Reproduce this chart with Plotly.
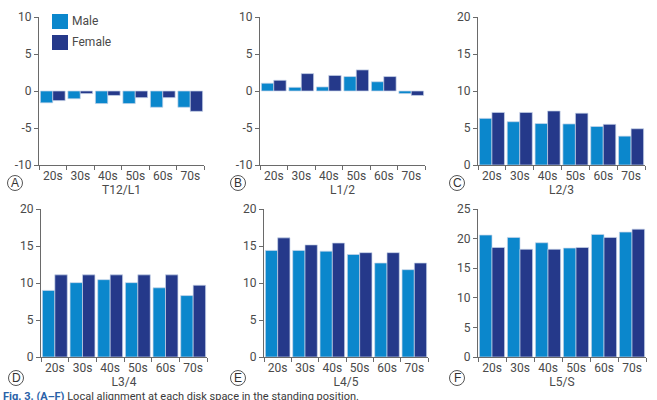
"""
Local alignment at each disk space, by decade and sex (Fig. 3 A-F).
"""

import plotly.graph_objects as go

W, H = 657, 400

decades = ["20s", "30s", "40s", "50s", "60s", "70s"]
levels = ["T12/L1", "L1/2", "L2/3", "L3/4", "L4/5", "L5/S"]
letters = ["A", "B", "C", "D", "E", "F"]

male_t12l1 = [-1.6, -1.05, -1.7, -1.7, -2.2, -2.2]
female_t12l1 = [-1.3, -0.35, -0.6, -0.9, -0.9, -2.75]
male_l12 = [1.05, 0.5, 0.55, 1.95, 1.25, -0.35]
female_l12 = [1.45, 2.35, 2.1, 2.85, 1.95, -0.6]
male_l23 = [6.3, 5.85, 5.6, 5.55, 5.2, 3.9]
female_l23 = [7.1, 7.1, 7.3, 7.0, 5.5, 4.9]
male_l34 = [9.0, 10.05, 10.45, 10.05, 9.35, 8.3]
female_l34 = [11.1, 11.1, 11.1, 11.1, 11.1, 9.7]
male_l45 = [14.4, 14.4, 14.3, 13.85, 12.7, 11.8]
female_l45 = [16.1, 15.15, 15.4, 14.1, 14.1, 12.7]
male_l5s = [20.6, 20.2, 19.3, 18.4, 20.7, 21.1]
female_l5s = [18.5, 18.2, 18.2, 18.5, 20.2, 21.6]

male = [male_t12l1, male_l12, male_l23, male_l34, male_l45, male_l5s]
female = [female_t12l1, female_l12, female_l23, female_l34, female_l45, female_l5s]

y_ranges = [[-10, 10], [-10, 10], [0, 20], [0, 20], [0, 20], [0, 25]]

MALE_COLOR = "#0b87cc"
FEMALE_COLOR = "#25398a"
AXIS_COLOR = "#6a6a6a"
TEXT_COLOR = "#4a4a4a"
FONT = "Roboto, Liberation Sans, sans-serif"
FSIZE = 12

# panel boxes in pixels: (left, right, top, bottom)
boxes = [
    (39, 204, 17, 165),
    (260, 425, 17, 165),
    (478, 645, 17, 165),
    (41, 207, 209, 357),
    (264, 428, 209, 357),
    (478, 646, 209, 357),
]
circle_pos = [(15, 183), (238, 183), (457, 183), (16, 378), (238, 378), (457, 378)]


def px(x):
    return x / W


def py(y):
    return 1 - y / H


fig = go.Figure()
layout = {}
shapes = []
annotations = []

for i in range(6):
    n = i + 1
    xa = "x" if n == 1 else f"x{n}"
    ya = "y" if n == 1 else f"y{n}"
    for vals, color, name in [(male[i], MALE_COLOR, "Male"), (female[i], FEMALE_COLOR, "Female")]:
        fig.add_trace(
            go.Bar(
                x=decades,
                y=vals,
                name=name,
                marker=dict(color=color, line=dict(color="#c9d6ea", width=0.7)),
                xaxis=xa,
                yaxis=ya,
                showlegend=False,
                offsetgroup=name,
            )
        )

    left, right, top, bottom = boxes[i]
    lo, hi = y_ranges[i]
    ticks = list(range(lo, hi + 1, 5))
    layout[f"xaxis{n}"] = dict(
        domain=[px(left), px(right)],
        anchor=ya,
        automargin=False,
        showline=True,
        linecolor=AXIS_COLOR,
        linewidth=1,
        ticks="outside",
        tickson="boundaries",
        ticklen=4,
        tickcolor=AXIS_COLOR,
        tickangle=0,
        showgrid=False,
        tickfont=dict(family=FONT, size=FSIZE, color=TEXT_COLOR),
        title=dict(text=levels[i], standoff=1,
                   font=dict(family=FONT, size=FSIZE, color=TEXT_COLOR)),
        fixedrange=True,
    )
    layout[f"yaxis{n}"] = dict(
        domain=[py(bottom), py(top)],
        anchor=xa,
        automargin=False,
        range=[lo, hi],
        tickvals=ticks,
        ticktext=[str(t) for t in ticks],
        showline=True,
        linecolor=AXIS_COLOR,
        linewidth=1,
        ticks="outside",
        ticklen=4,
        tickcolor=AXIS_COLOR,
        showgrid=False,
        zeroline=False,
        tickfont=dict(family=FONT, size=FSIZE, color=TEXT_COLOR),
        fixedrange=True,
    )

    cx, cy = circle_pos[i]
    shapes.append(dict(
        type="circle", xref="paper", yref="paper",
        x0=px(cx - 7.5), x1=px(cx + 7.5), y0=py(cy + 7.5), y1=py(cy - 7.5),
        line=dict(color="#555555", width=1),
    ))
    annotations.append(dict(
        x=px(cx), y=py(cy), xref="paper", yref="paper", text=letters[i],
        showarrow=False, xanchor="center", yanchor="middle",
        font=dict(family="Liberation Sans, Arial, sans-serif", size=12, color="#333333"),
    ))

# legend in panel A
for j, (name, color) in enumerate([("Male", MALE_COLOR), ("Female", FEMALE_COLOR)]):
    y0 = 14 + j * 21
    shapes.append(dict(
        type="rect", xref="paper", yref="paper",
        x0=px(52), x1=px(68), y0=py(y0 + 15), y1=py(y0),
        fillcolor=color, line=dict(width=0),
    ))
    annotations.append(dict(
        x=px(70), y=py(y0 + 7.5), xref="paper", yref="paper", text=name,
        showarrow=False, xanchor="left", yanchor="middle",
        font=dict(family=FONT, size=FSIZE, color=TEXT_COLOR),
    ))

# caption, cut by the lower edge as in the figure
annotations.append(dict(
    x=px(1), y=py(396), xref="paper", yref="paper",
    text="<b><span style='color:#2a62a8'>Fig. 3. (A–F)</span></b> Local alignment at each disk space in the standing position.",
    showarrow=False, xanchor="left", yanchor="middle",
    font=dict(family=FONT, size=11, color="#3a3a3a"),
))

fig.update_layout(
    width=W,
    height=H,
    margin=dict(l=0, r=0, t=0, b=0),
    paper_bgcolor="white",
    plot_bgcolor="white",
    barmode="group",
    bargap=0.1,
    bargroupgap=0,
    shapes=shapes,
    annotations=annotations,
    **layout,
)

# the page's default body margin would push the figure off the window
fig.write_html(
    "out.html",
    config={"displayModeBar": False},
    post_script="document.body.style.margin='0';document.body.style.overflow='hidden';",
)
